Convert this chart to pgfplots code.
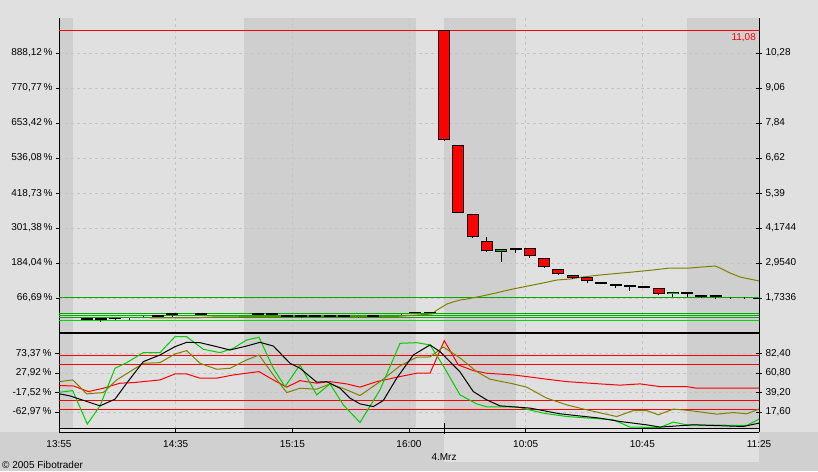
\documentclass[border=0pt]{standalone}
\usepackage{pgfplots}
\pgfplotsset{compat=1.18}
\usepackage{pgfplotstable}
\usepackage{fontspec}
\setmainfont{Liberation Sans}
\definecolor{bglight}{RGB}{224,224,224}
\definecolor{bgshade}{RGB}{207,207,207}
\definecolor{bgstrip}{RGB}{208,208,208}
\definecolor{gridc}{RGB}{198,198,198}
\definecolor{cred}{RGB}{255,0,0}
\definecolor{cgreen}{RGB}{0,190,0}
\definecolor{lgreen}{RGB}{0,205,0}
\definecolor{olivec}{RGB}{128,128,0}
\definecolor{lvgreen}{RGB}{0,170,0}
\definecolor{lvgreenb}{RGB}{0,215,0}

% red (falling) candles: x o h l c
\pgfplotstableread{
x o h l c
444   11.08 11.08 7.22 7.26
458.3 7.06 7.06 4.69 4.71
472.6 4.65 4.65 3.83 3.85
486.9 3.72 3.85 3.34 3.37
529.8 3.47 3.47 3.13 3.19
544.1 3.12 3.12 2.78 2.80
558.4 2.73 2.73 2.54 2.56
572.7 2.53 2.53 2.41 2.44
587   2.46 2.46 2.26 2.32
615.6 2.21 2.21 2.08 2.14
658.5 2.08 2.08 1.84 1.89
}\redc
% green (rising) candles
\pgfplotstableread{
x o h l c
301   1.06 1.13 1.02 1.13
501.2 3.33 3.43 3.00 3.43
672.8 1.86 1.94 1.76 1.94
}\greenc
% doji candles: x c h l
\pgfplotstableread{
x c h l
86.5  1.00 1.04 0.97
100.8 0.99 0.99 0.91
115.1 1.02 1.03 0.98
158   1.095 1.10 1.09
172.3 1.165 1.17 1.08
200.9 1.165 1.17 1.16
258.1 1.165 1.17 1.16
272.4 1.165 1.17 1.16
286.7 1.095 1.10 1.09
315.3 1.095 1.10 1.09
329.6 1.095 1.10 1.09
343.9 1.095 1.10 1.09
372.5 1.095 1.10 1.09
415.4 1.23 1.24 1.22
429.7 1.23 1.24 1.22
515.5 3.44 3.47 3.31
601.3 2.26 2.27 2.22
629.9 2.14 2.14 1.99
644.2 2.12 2.13 2.08
687.1 1.90 1.90 1.77
701.4 1.80 1.80 1.72
715.7 1.80 1.80 1.70
758.6 1.72 1.72 1.70
}\dojic
% wick-only bars: x l h
\pgfplotstableread{
x l h
129.4 0.97 1.04
143.7 1.10 1.12
358.2 1.03 1.06
401.1 1.16 1.19
730   1.70 1.77
744.3 1.70 1.77
}\wickc

\pgfplotsset{
  every tick label/.append style={font=\fontsize{10}{12}\selectfont},
  mygrid/.style={grid style={gridc, dash pattern=on 3pt off 3pt, line width=0.8pt}},
  topgeom/.style={at={(59pt,138pt)}, anchor=south west, scale only axis,
     width=700pt, height=315pt, xmin=59, xmax=759, ymin=0.5127, ymax=11.501},
  botgeom/.style={at={(59pt,43pt)}, anchor=south west, scale only axis,
     width=700pt, height=94pt, xmin=59, xmax=759, ymin=0, ymax=104},
  wick/.style={draw=none, mark=none, forget plot,
     error bars/y dir=plus, error bars/y explicit, error bars/error mark=none,
     error bars/error bar style={draw=black, line width=1pt, line cap=butt}},
}

\begin{document}
\begin{tikzpicture}[x=1pt,y=1pt]
\fill[bglight] (0,0) rectangle (818,471);
\fill[bgstrip] (0,0) rectangle (818,39);
\fill[bglight] (444,9) rectangle (759,39);

% ---------------- top panel: shading ----------------
\begin{axis}[topgeom, hide axis]
\addplot[fill=bgshade, draw=none, forget plot] coordinates {(59,0.5127)(73,0.5127)(73,11.501)(59,11.501)};
\addplot[fill=bgshade, draw=none, forget plot] coordinates {(244,0.5127)(416,0.5127)(416,11.501)(244,11.501)};
\addplot[fill=bgshade, draw=none, forget plot] coordinates {(444,0.5127)(516,0.5127)(516,11.501)(444,11.501)};
\addplot[fill=bgshade, draw=none, forget plot] coordinates {(687,0.5127)(759,0.5127)(759,11.501)(687,11.501)};
\end{axis}

% ---------------- top panel ----------------
\begin{axis}[
  topgeom,
  axis x line*=bottom, axis y line*=left,
  axis line style={black, line width=1pt, -},
  xtick={175.7,292.3,409,525.7,642.3}, xticklabels={},
  xtick style={draw=none},
  ytick={1.7336,2.954,4.1744,5.39,6.62,7.84,9.06,10.28},
  yticklabels={{66,69\,\%},{184,04\,\%},{301,38\,\%},{418,73\,\%},{536,08\,\%},{653,42\,\%},{770,77\,\%},{888,12\,\%}},
  ytick align=outside, major tick length=3pt,
  ytick style={black, line width=0.8pt},
  xmajorgrids, ymajorgrids, mygrid,
]
% level lines
\addplot[cred, line width=1pt, forget plot] coordinates {(59,11.08)(759,11.08)};
\addplot[lvgreen, line width=1pt, forget plot] coordinates {(59,1.758)(759,1.758)};
\addplot[lvgreen, line width=1pt, forget plot] coordinates {(59,1.200)(759,1.200)};
\addplot[lvgreen, line width=1pt, forget plot] coordinates {(59,1.116)(759,1.116)};
\addplot[lvgreen, line width=1pt, forget plot] coordinates {(59,1.046)(759,1.046)};
\addplot[lvgreenb, line width=1pt, forget plot] coordinates {(59,0.956)(759,0.956)};

% moving average
\addplot[olivec, line width=1pt, forget plot] coordinates {
(150,1.036)(195,1.036)(210,1.07)(265,1.088)(395,1.088)(432,1.175)(437,1.315)(442,1.42)
(447,1.524)(453,1.594)(460,1.664)(467,1.699)(477,1.768)(487,1.838)(500,1.943)(513,2.048)
(523,2.117)(533,2.187)(543,2.257)(557,2.361)(570,2.396)(583,2.466)(600,2.536)(633,2.641)
(653,2.710)(670,2.780)(690,2.780)(715,2.850)(720,2.780)(730,2.606)(740,2.466)(759,2.327)};

% wicks
\addplot[wick] table[x=x, y=l, y error expr=\thisrow{h}-\thisrow{l}] {\redc};
\addplot[wick] table[x=x, y=l, y error expr=\thisrow{h}-\thisrow{l}] {\greenc};
\addplot[wick] table[x=x, y=l, y error expr=\thisrow{h}-\thisrow{l}] {\dojic};
\addplot[wick] table[x=x, y=l, y error expr=\thisrow{h}-\thisrow{l}] {\wickc};

% bodies: outline
\addplot[wick, error bars/error bar style={line width=12pt}]
  table[x=x, y expr={min(\thisrow{o},\thisrow{c})}, y error expr={abs(\thisrow{c}-\thisrow{o})}] {\redc};
\addplot[wick, error bars/error bar style={line width=12pt}]
  table[x=x, y expr={min(\thisrow{o},\thisrow{c})}, y error expr={abs(\thisrow{c}-\thisrow{o})}] {\greenc};
% bodies: fill
\addplot[wick, error bars/error bar style={draw=cred, line width=10pt}]
  table[x=x, y expr={min(\thisrow{o},\thisrow{c})+0.035}, y error expr={max(abs(\thisrow{c}-\thisrow{o})-0.07,0)}] {\redc};
\addplot[wick, error bars/error bar style={draw=cgreen, line width=10pt}]
  table[x=x, y expr={min(\thisrow{o},\thisrow{c})+0.035}, y error expr={max(abs(\thisrow{c}-\thisrow{o})-0.07,0)}] {\greenc};
% doji bodies
\addplot[wick, error bars/error bar style={line width=12pt}]
  table[x=x, y expr={\thisrow{c}-0.03}, y error expr={0.06}] {\dojic};
\end{axis}

\begin{axis}[
  topgeom,
  axis x line=none, axis y line*=right,
  axis line style={black, line width=1pt, -},
  ytick={1.7336,2.954,4.1744,5.39,6.62,7.84,9.06,10.28},
  yticklabels={{1,7336},{2,9540},{4,1744},{5,39},{6,62},{7,84},{9,06},{10,28}},
  ytick align=center, major tick length=6pt,
  ytick style={black, line width=0.8pt},
]
\addplot[draw=none, forget plot] coordinates {(59,1)(759,1)};
\end{axis}

% ---------------- bottom panel: shading ----------------
\begin{axis}[botgeom, hide axis]
\addplot[fill=bgshade, draw=none, forget plot] coordinates {(59,0)(73,0)(73,104)(59,104)};
\addplot[fill=bgshade, draw=none, forget plot] coordinates {(244,0)(416,0)(416,104)(244,104)};
\addplot[fill=bgshade, draw=none, forget plot] coordinates {(444,0)(516,0)(516,104)(444,104)};
\addplot[fill=bgshade, draw=none, forget plot] coordinates {(687,0)(759,0)(759,104)(687,104)};
\end{axis}

% ---------------- bottom panel ----------------
\begin{axis}[
  botgeom,
  axis line style={black, line width=1pt},
  xtick={59,175.7,292.3,409,525.7,642.3,759},
  xticklabels={13:55,14:35,15:15,16:00,10:05,10:45,11:25},
  xtick pos=bottom, ytick pos=left,
  xtick align=outside, ytick align=outside,
  major tick length=4pt,
  tick style={black, line width=0.8pt},
  xticklabel style={anchor=base, yshift=-15pt},
  ytick={17.6,39.2,60.8,82.4},
  yticklabels={{-62,97\,\%},{-17,52\,\%},{27,92\,\%},{73,37\,\%}},
  xmajorgrids, ymajorgrids, mygrid,
  extra x ticks={444}, extra x tick labels={4.Mrz},
  extra x tick style={grid=none, major tick length=11pt, xtick align=center,
     xticklabel style={yshift=-12pt}},
]
\addplot[cred, line width=1pt, forget plot] coordinates {(59,80)(759,80)};
\addplot[cred, line width=1pt, forget plot] coordinates {(59,70)(759,70)};
\addplot[cred, line width=1pt, forget plot] coordinates {(59,30)(759,30)};
\addplot[cred, line width=1pt, forget plot] coordinates {(59,20)(759,20)};

% red series
\addplot[cred, line width=1pt, forget plot] coordinates {
(59.3,46.9)(73.3,46.6)(88.3,40.3)(103.3,44.0)(120,49.6)(133.3,50.2)(160,53.2)(175,59.8)
(186.7,59.8)(200,55.1)(216.7,55.1)(233.3,58.7)(259,62.4)(273.3,53.2)(286.7,45.2)(300,52.4)
(316.7,49.6)(330,51.3)(346.7,48.8)(360,45.2)(376.7,51.3)(400,56.9)(416.7,60.6)(430,60.6)
(444.3,96.6)(458.3,69.8)(473.3,63.5)(486.7,60.6)(513.3,58.7)(526.7,56.9)(546.7,54.0)
(566.7,51.3)(600,48.8)(620,47.4)(640,48.8)(660,45.8)(686.7,45.8)(696.7,44.0)(759,44.0)};
% olive series
\addplot[olivec, line width=1pt, forget plot] coordinates {
(59.3,51.3)(72.7,53.2)(86.7,37.8)(103.3,39.2)(116.7,53.2)(143.3,71.6)(160,72.3)(175,81.9)
(186.7,85.6)(200,71.6)(216.7,65.0)(230,66.1)(246.7,75.3)(259,80.8)(273.3,58.7)(286.7,39.2)
(300,44.0)(316.7,42.9)(330,48.8)(346.7,42.2)(360,35.9)(380,51.3)(400,68.7)(416.7,78.3)
(430,78.6)(443.3,89.6)(460,77.5)(476.7,62.4)(490,54.0)(513.3,48.8)(526.7,45.2)(546.7,33.0)
(566.7,25.6)(586.7,20.1)(616.7,12.7)(633.3,19.3)(646.7,19.3)(658.3,14.6)(673.3,20.9)
(690,19.3)(716.7,15.3)(733.3,17.1)(746.7,15.7)(759,20.9)};
% green series
\addplot[lgreen, line width=1pt, forget plot] coordinates {
(59.3,39.5)(72.7,41.4)(87.3,4.3)(100,24.5)(115,66.1)(126.7,72.3)(143.3,83.4)(160,83.4)
(175,101.0)(186.7,101.0)(203.3,87.1)(220,83.4)(233.3,88.2)(246.7,97.4)(259,100.4)(273.3,66.1)
(285,45.8)(300,69.8)(316.7,36.7)(330,48.8)(343.3,25.6)(360,6.1)(380,42.2)(400,93.7)
(416.7,94.4)(430,91.9)(443.3,68.7)(460,36.7)(476.7,26.7)(486.7,23.4)(516.7,23.4)(543.3,16.4)
(566.7,12.7)(613.3,9.1)(630,1.0)(660,0.6)(673.3,6.5)(686.7,3.5)(746.7,2.8)(759,9.8)};
% black series
\addplot[black, line width=1pt, forget plot] coordinates {
(59.3,37.8)(70,35.5)(100,24.5)(115,31.9)(126.7,49.6)(143.3,73.4)(160,80.8)(175,90.0)
(186.7,94.8)(200,94.4)(216.7,90.0)(230,86.3)(246.7,90.7)(260,94.8)(273.3,90.7)(290,71.6)
(300,66.1)(316.7,50.7)(326.7,51.3)(340,44.0)(350,33.0)(360,26.7)(373.3,23.7)(383.3,30.4)
(396.7,55.1)(413.3,80.8)(430,91.9)(440,84.5)(460,62.0)(473.3,40.3)(486.7,31.1)(500,24.5)
(530,22.0)(560,15.7)(600,10.9)(620,7.2)(646.7,3.5)(660,1.0)(693.3,3.5)(743.3,1.7)(759,5.4)};
\end{axis}

\begin{axis}[
  botgeom,
  axis x line=none, axis y line*=right,
  axis line style={black, line width=1pt, -},
  ytick={17.6,39.2,60.8,82.4},
  yticklabels={{17,60},{39,20},{60,80},{82,40}},
  ytick align=center, major tick length=6pt,
  ytick style={black, line width=0.8pt},
]
\addplot[draw=none, forget plot] coordinates {(59,1)(759,1)};
\end{axis}

\draw[black, line width=1pt] (59,39) -- (759,39);
\node[anchor=east, text=cred, font=\fontsize{10}{12}\selectfont, inner sep=0pt] at (756,433.5) {11,08};
\node[anchor=west, font=\fontsize{10}{12}\selectfont, inner sep=0pt] at (2,6) {© 2005 Fibotrader};
\end{tikzpicture}
\end{document}
